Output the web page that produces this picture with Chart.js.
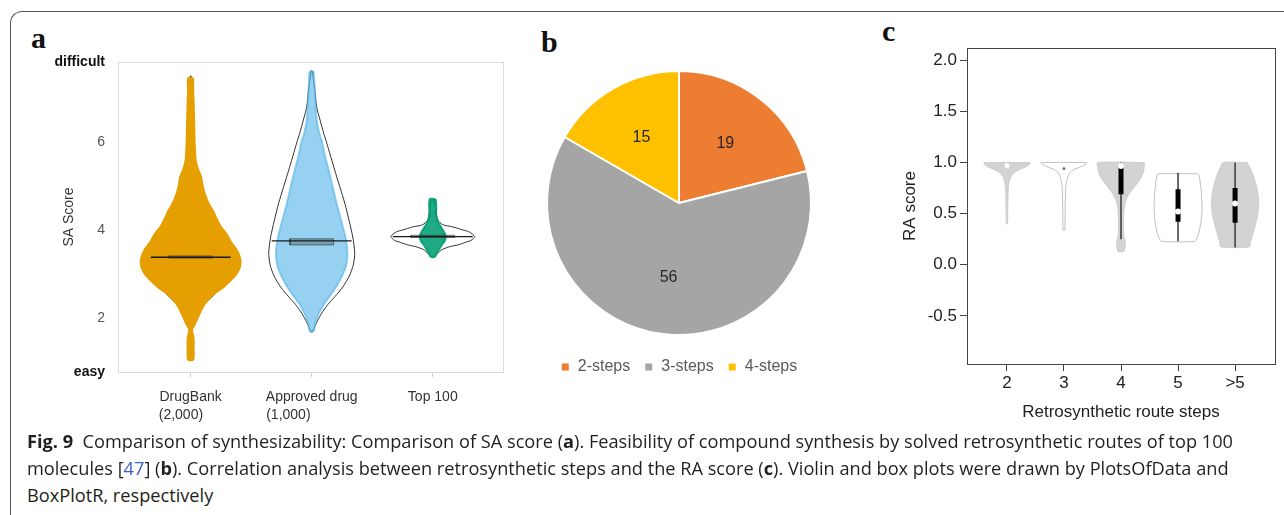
<!DOCTYPE html>
<html>
<head>
<meta charset="utf-8">
<script src="https://cdn.jsdelivr.net/npm/chart.js@4.4.1/dist/chart.umd.min.js"></script>
<style>
  body { margin: 0; background: #fff; }
  #page { position: relative; width: 1284px; height: 515px; overflow: hidden; font-family: "Liberation Sans", Arial, sans-serif; }
  .frame { position: absolute; left: 10px; top: 11px; width: 1300px; height: 520px; border-top: 1.5px solid #555; border-left: 1.5px solid #555; border-top-left-radius: 12px; }
  canvas { position: absolute; }
  .tag { position: absolute; font: bold 30px "Liberation Serif", serif; line-height: 30px; color: #111; }
  .cap { position: absolute; left: 27px; white-space: nowrap; font-family: "Open Sans", sans-serif; font-size: 18.2px; line-height: 20px; color: #231f20; }
  .ref { color: #3a5fcd; }
</style>
</head>
<body>
<div id="page">
  <div class="frame"></div>
  <div class="tag" style="left:31px;top:23px">a</div>
  <div class="tag" style="left:541px;top:27px">b</div>
  <div class="tag" style="left:882px;top:16px">c</div>
  <canvas id="saChart" width="490" height="400" style="left:20px;top:30px"></canvas>
  <canvas id="stepsChart" width="340" height="333" style="left:509px;top:52px"></canvas>
  <canvas id="raChart" width="424" height="400" style="left:860px;top:30px"></canvas>
  <div class="cap" style="top:431px"><b>Fig. 9</b>&nbsp; Comparison of synthesizability: Comparison of SA score (<b>a</b>). Feasibility of compound synthesis by solved retrosynthetic routes of top 100</div>
  <div class="cap" style="top:458px">molecules [<span class="ref">47</span>] (<b>b</b>). Correlation analysis between retrosynthetic steps and the RA score (<b>c</b>). Violin and box plots were drawn by PlotsOfData and</div>
  <div class="cap" style="top:485px">BoxPlotR, respectively</div>
</div>
<script>
// ---- (a) SA score per compound set ----
const saGroups = [['DrugBank', '(2,000)     '], ['Approved drug', '(1,000)            '], ['Top 100']];
const saMin = 0.77, saMax = 7.82;
const saTicks = [2, 4, 6];

// swarm silhouettes: score levels and half-widths (x units)
const drugbankLevels = [7.45, 7.2, 6.9, 6.5, 6.0, 5.6, 5.4, 5.2, 5.0, 4.83, 4.6, 4.45, 4.25, 4.08, 3.9, 3.7, 3.55, 3.39, 3.25, 3.09, 2.95, 2.79, 2.65, 2.56, 2.4, 2.26, 2.1, 1.95, 1.85, 1.73, 1.6, 1.5, 1.25, 1.05];
const drugbankSpread = [0.021, 0.021, 0.025, 0.029, 0.033, 0.041, 0.058, 0.087, 0.099, 0.116, 0.149, 0.182, 0.215, 0.248, 0.298, 0.339, 0.380, 0.405, 0.413, 0.397, 0.364, 0.306, 0.248, 0.198, 0.140, 0.103, 0.074, 0.050, 0.033, 0.010, 0.021, 0.025, 0.025, 0.021];
const approvedLevels = [7.6, 7.2, 6.8, 6.5, 6.2, 6.0, 5.7, 5.36, 5.0, 4.61, 4.2, 3.84, 3.5, 3.2, 2.95, 2.7, 2.48, 2.3, 2.11, 1.9, 1.7];
const approvedSpread = [0.017, 0.025, 0.033, 0.041, 0.062, 0.085, 0.108, 0.140, 0.172, 0.205, 0.245, 0.278, 0.295, 0.285, 0.250, 0.200, 0.145, 0.098, 0.060, 0.030, 0.017];
const top100Levels = [4.70, 4.5, 4.38, 4.25, 4.15, 4.0, 3.92, 3.85, 3.75, 3.66, 3.55, 3.47, 3.39];
const top100Spread = [0.025, 0.029, 0.025, 0.033, 0.050, 0.083, 0.099, 0.107, 0.099, 0.074, 0.050, 0.033, 0.017];

// violin outlines
const drugbankVioLevels = [7.5, 7.0, 6.0, 5.0, 4.3, 3.8, 3.4, 3.0, 2.6, 2.2, 1.9, 1.7, 1.5, 1.1];
const drugbankVioWidth = [0.004, 0.01, 0.02, 0.08, 0.17, 0.30, 0.38, 0.36, 0.22, 0.08, 0.03, 0.008, 0.006, 0.004];
const approvedVioLevels = [7.62, 7.2, 6.8, 6.5, 6.2, 5.98, 5.36, 4.61, 4.2, 3.84, 3.48, 3.2, 2.95, 2.7, 2.48, 2.3, 2.11, 1.9, 1.68];
const approvedVioWidth = [0.004, 0.025, 0.041, 0.069, 0.099, 0.124, 0.190, 0.273, 0.310, 0.339, 0.355, 0.343, 0.310, 0.256, 0.190, 0.132, 0.083, 0.041, 0.004];
const top100VioLevels = [4.68, 4.5, 4.23, 4.12, 4.07, 4.0, 3.96, 3.85, 3.76, 3.73, 3.66, 3.62, 3.55, 3.47, 3.39];
const top100VioWidth = [0.008, 0.025, 0.041, 0.083, 0.165, 0.248, 0.298, 0.347, 0.314, 0.281, 0.207, 0.140, 0.074, 0.041, 0.008];

const saMean = [3.38, 3.75, 3.85];
const saCiLow = [3.36, 3.66, 3.83];
const saCiHigh = [3.41, 3.80, 3.88];

// ---- (b) solved routes by number of steps ----
const stepLabels = ['2-steps', '3-steps', '4-steps'];
const stepCounts = [19, 56, 15];

// ---- (c) RA score by route length ----
const raSteps = ['2', '3', '4', '5', '>5'];
const raTicks = [-0.5, 0, 0.5, 1, 1.5, 2];
const raLevels = [
  [1.0, 0.985, 0.96, 0.93, 0.90, 0.86, 0.80, 0.70, 0.55, 0.40],
  [1.0, 0.985, 0.96, 0.93, 0.90, 0.85, 0.78, 0.65, 0.50, 0.34],
  [1.0, 0.95, 0.90, 0.85, 0.80, 0.75, 0.70, 0.65, 0.60, 0.55, 0.45, 0.35, 0.28, 0.24, 0.18, 0.14, 0.13],
  [0.89, 0.87, 0.80, 0.70, 0.55, 0.45, 0.38, 0.30, 0.25, 0.228],
  [1.0, 0.95, 0.90, 0.80, 0.70, 0.60, 0.50, 0.40, 0.30, 0.22, 0.175]
];
const raWidth = [
  [0.40, 0.40, 0.34, 0.22, 0.13, 0.07, 0.035, 0.02, 0.015, 0.01],
  [0.40, 0.39, 0.30, 0.17, 0.10, 0.06, 0.035, 0.025, 0.02, 0.015],
  [0.41, 0.405, 0.39, 0.35, 0.29, 0.22, 0.15, 0.10, 0.07, 0.055, 0.045, 0.045, 0.05, 0.07, 0.075, 0.06, 0.05],
  [0.34, 0.37, 0.39, 0.41, 0.42, 0.41, 0.39, 0.36, 0.32, 0.29],
  [0.21, 0.26, 0.30, 0.36, 0.40, 0.415, 0.40, 0.36, 0.31, 0.27, 0.25]
];
const raWhiskLow = [null, null, 0.25, 0.23, 0.17];
const raWhiskHigh = [null, null, 1.0, 0.9, 1.0];
const raQ1 = [null, null, 0.69, 0.42, 0.41];
const raQ3 = [null, null, 0.98, 0.74, 0.75];
const raMedian = [0.97, 0.94, 0.965, 0.52, 0.60];

// closed outline: right edge top->bottom, then left edge back up
function violinPath(center, levels, widths) {
  const right = levels.map((y, i) => ({x: center + widths[i], y}));
  const left = levels.map((y, i) => ({x: center - widths[i], y})).reverse();
  const pts = right.concat(left);
  pts.push(pts[0]);
  return pts;
}

// vertical segments at each group, split by null gaps
function segments(lo, hi) {
  const pts = [];
  lo.forEach((v, i) => {
    if (v === null) return;
    pts.push({x: i + 1, y: v}, {x: i + 1, y: hi[i]}, {x: i + 1, y: null});
  });
  return pts;
}

const plotFrame = {
  id: 'plotFrame',
  afterDraw(chart, args, opts) {
    const {ctx, chartArea: a} = chart;
    ctx.save();
    ctx.strokeStyle = opts.color;
    ctx.lineWidth = opts.width;
    ctx.strokeRect(Math.round(a.left) + 0.5, Math.round(a.top) + 0.5, Math.round(a.right - a.left), Math.round(a.bottom - a.top));
    ctx.restore();
  }
};

const sliceValues = {
  id: 'sliceValues',
  afterDatasetsDraw(chart) {
    const {ctx} = chart;
    const meta = chart.getDatasetMeta(0);
    ctx.save();
    ctx.font = '16px "Liberation Sans", Arial, sans-serif';
    ctx.fillStyle = '#262626';
    ctx.textAlign = 'center';
    ctx.textBaseline = 'middle';
    meta.data.forEach((arc, i) => {
      const {x, y, startAngle, endAngle, outerRadius} = arc.getProps(['x', 'y', 'startAngle', 'endAngle', 'outerRadius'], true);
      const mid = (startAngle + endAngle) / 2;
      const r = outerRadius * 0.57;
      ctx.fillText(chart.data.datasets[0].data[i], x + Math.cos(mid) * r, y + Math.sin(mid) * r);
    });
    ctx.restore();
  }
};

const lineBase = {type: 'line', pointRadius: 0, tension: 0.25, fill: false};

// ---------- chart a ----------
const swarmColors = ['#E69F00', 'rgba(86,180,233,0.62)', 'rgba(0,158,115,0.88)'];
const swarms = [
  [drugbankLevels, drugbankSpread],
  [approvedLevels, approvedSpread],
  [top100Levels, top100Spread]
];
const violinsA = [
  [drugbankVioLevels, drugbankVioWidth],
  [approvedVioLevels, approvedVioWidth],
  [top100VioLevels, top100VioWidth]
];
const saSets = [];
violinsA.forEach(([lv, w], i) => {
  saSets.push({...lineBase, data: violinPath(i, lv, w), borderColor: '#333', borderWidth: 1, order: 3});
});
swarms.forEach(([lv, w], i) => {
  saSets.push({...lineBase, data: violinPath(i, lv, w), fill: 'shape', backgroundColor: swarmColors[i], borderColor: swarmColors[i], borderWidth: 2, order: 2});
});
saMean.forEach((m, i) => {
  saSets.push({...lineBase, tension: 0, fill: 'shape', order: 1, borderWidth: 1,
    borderColor: 'rgba(40,40,40,0.55)', backgroundColor: 'rgba(70,70,70,0.35)',
    data: [{x: i - 0.18, y: saCiLow[i]}, {x: i + 0.18, y: saCiLow[i]}, {x: i + 0.18, y: saCiHigh[i]}, {x: i - 0.18, y: saCiHigh[i]}, {x: i - 0.18, y: saCiLow[i]}]});
  saSets.push({...lineBase, tension: 0, order: 0, borderWidth: 1.3, borderColor: '#1a1a1a',
    data: [{x: i - 0.33, y: m}, {x: i + 0.33, y: m}]});
});

new Chart(document.getElementById('saChart'), {
  type: 'line',
  data: {datasets: saSets},
  options: {
    responsive: false,
    animation: false,
    layout: {padding: {top: 32, right: 7, left: 0, bottom: 0}},
    plugins: {legend: {display: false}, tooltip: {enabled: false}, plotFrame: {color: '#dcdcdc', width: 1}},
    scales: {
      x: {
        type: 'linear', min: -0.6, max: 2.58,
        afterBuildTicks: s => { s.ticks = saGroups.map((g, i) => ({value: i})); },
        afterFit: s => { s.height = 58; },
        ticks: {callback: v => saGroups[v], padding: 11, color: '#333', maxRotation: 0,
          font: {family: '"Liberation Sans", Arial, sans-serif', size: 14, lineHeight: 1.3}},
        grid: {drawOnChartArea: false, tickLength: 5, color: '#cfcfcf'},
        border: {display: false}
      },
      y: {
        min: saMin, max: saMax,
        afterBuildTicks: s => { s.ticks = [saMin, ...saTicks, saMax].map(v => ({value: v})); },
        afterFit: s => { s.width = 98; },
        ticks: {
          padding: 5,
          callback: v => v === saMax ? 'difficult' : v === saMin ? 'easy' : v,
          color: c => (c.tick && (c.tick.value === saMax || c.tick.value === saMin)) ? '#111' : '#555',
          font: c => ({family: '"Liberation Sans", Arial, sans-serif', size: 14,
            weight: (c.tick && (c.tick.value === saMax || c.tick.value === saMin)) ? 'bold' : 'normal'})
        },
        grid: {display: false},
        border: {display: false},
        title: {display: true, text: 'SA Score', color: '#333', padding: {top: 41},
          font: {family: '"Liberation Sans", Arial, sans-serif', size: 14}}
      }
    }
  },
  plugins: [plotFrame]
});

// ---------- chart b ----------
new Chart(document.getElementById('stepsChart'), {
  type: 'pie',
  data: {
    labels: stepLabels,
    datasets: [{data: stepCounts, backgroundColor: ['#ED7D31', '#A5A5A5', '#FFC000'], borderColor: '#fff', borderWidth: 2, radius: 132}]
  },
  options: {
    responsive: false,
    animation: false,
    layout: {padding: {top: 9}},
    plugins: {
      tooltip: {enabled: false},
      legend: {position: 'bottom', labels: {boxWidth: 9, boxHeight: 9, padding: 14, color: '#595959',
        font: {family: '"Liberation Sans", Arial, sans-serif', size: 16}}}
    }
  },
  plugins: [sliceValues]
});

// ---------- chart c ----------
const raFills = ['#d3d3d3', '#ffffff', '#d3d3d3', '#ffffff', '#d3d3d3'];
const raEdges = ['#cdcdcd', '#bdbdbd', '#cdcdcd', '#bdbdbd', '#cdcdcd'];
const raSets = raLevels.map((lv, i) => ({...lineBase, data: violinPath(i + 1, lv, raWidth[i]), fill: 'shape',
  backgroundColor: raFills[i], borderColor: raEdges[i], borderWidth: 1, order: 3}));
raSets.push({...lineBase, tension: 0, order: 2, borderColor: '#3a3a3a', borderWidth: 1.5, data: segments(raWhiskLow, raWhiskHigh)});
raSets.push({...lineBase, tension: 0, order: 1, borderColor: '#000', borderWidth: 5, borderCapStyle: 'butt', data: segments(raQ1, raQ3)});
raSets.push({type: 'scatter', order: 0, data: raMedian.map((m, i) => ({x: i + 1, y: m})),
  pointRadius: [2.5, 1.4, 3, 3, 3], pointBorderWidth: 0,
  pointBackgroundColor: ['#fff', '#666', '#fff', '#fff', '#fff']});

const tickFont = {family: '"Liberation Sans", Arial, sans-serif', size: 17};
new Chart(document.getElementById('raChart'), {
  type: 'line',
  data: {datasets: raSets},
  options: {
    responsive: false,
    animation: false,
    layout: {padding: {top: 18, right: 9, left: 0, bottom: 0}},
    plugins: {legend: {display: false}, tooltip: {enabled: false}, plotFrame: {color: '#444', width: 1}},
    scales: {
      x: {
        type: 'linear', min: 0.3, max: 5.7,
        afterBuildTicks: s => { s.ticks = raSteps.map((t, i) => ({value: i + 1})); },
        afterFit: s => { s.height = 66; },
        ticks: {callback: v => raSteps[v - 1], padding: 2, color: '#222', font: tickFont, maxRotation: 0},
        grid: {drawOnChartArea: false, tickLength: 7, color: '#444'},
        border: {display: false},
        title: {display: true, text: 'Retrosynthetic route steps', color: '#222', font: tickFont, padding: {bottom: 7}}
      },
      y: {
        min: -0.97, max: 2.12,
        afterBuildTicks: s => { s.ticks = raTicks.map(v => ({value: v})); },
        afterFit: s => { s.width = 107; },
        ticks: {callback: v => v.toFixed(1), padding: 3, color: '#222', font: tickFont},
        grid: {drawOnChartArea: false, tickLength: 7, color: '#444'},
        border: {display: false},
        title: {display: true, text: 'RA score', color: '#222', font: tickFont, padding: {top: 40}}
      }
    }
  },
  plugins: [plotFrame]
});
</script>
</body>
</html>
